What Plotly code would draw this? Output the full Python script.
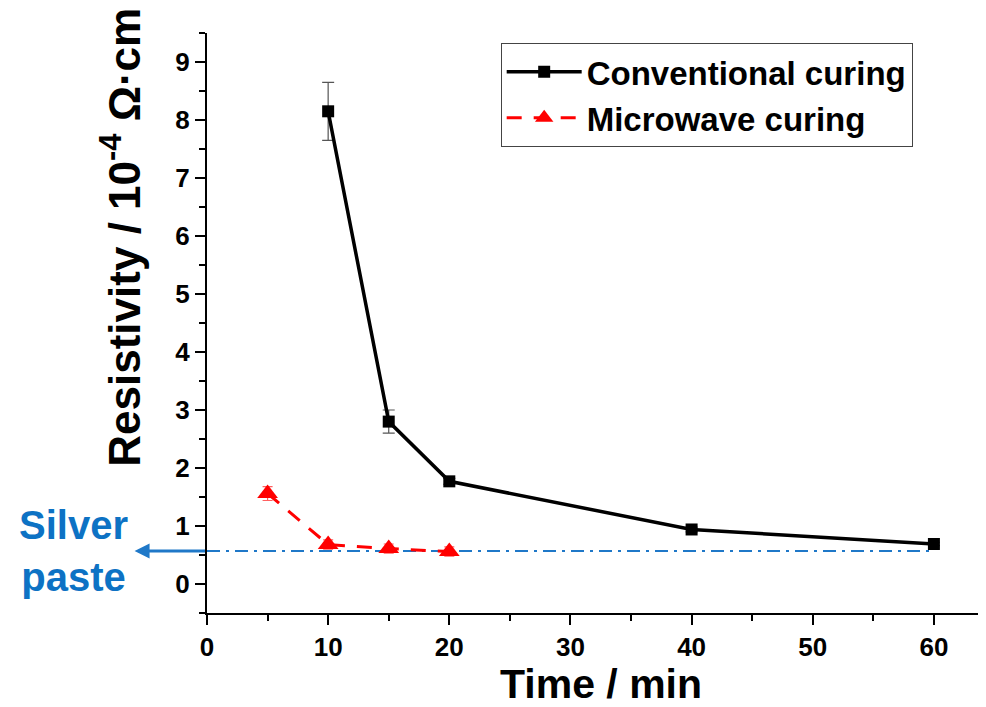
import plotly.graph_objects as go

conv_time = [10, 15, 20, 40, 60]
conv_res = [8.15, 2.80, 1.77, 0.94, 0.69]
conv_err = [0.50, 0.20, 0.05, 0.04, 0.03]

micro_time = [5, 10, 15, 20]
micro_res = [1.56, 0.68, 0.61, 0.56]
micro_err = [0.12, 0.08, 0.08, 0.08]

silver_level = 0.57
silver_x = [0, 60]

FONT = "Arial, Liberation Sans, sans-serif"
BLUE = "#1f78c8"

fig = go.Figure()
fig.add_trace(go.Scatter(
    x=silver_x, y=[silver_level, silver_level], mode="lines",
    line=dict(color=BLUE, width=2, dash="13px,6px,3px,6px"),
    showlegend=False, hoverinfo="skip"))
fig.add_trace(go.Scatter(
    x=conv_time, y=conv_res, mode="lines+markers", name="Conventional curing",
    line=dict(color="black", width=3.5),
    marker=dict(symbol="square", size=12, color="black"),
    error_y=dict(type="data", array=conv_err, color="#555555", thickness=1.2, width=6)))
fig.add_trace(go.Scatter(
    x=micro_time, y=micro_res, mode="lines+markers", name="Microwave curing",
    line=dict(color="red", width=3, dash="15px,12px"),
    marker=dict(symbol="triangle-up", size=18, color="red"),
    error_y=dict(type="data", array=micro_err, color="#ff6060", thickness=1.2, width=5)))

fig.update_layout(
    width=986, height=707,
    margin=dict(l=199, r=8, t=25, b=102),
    plot_bgcolor="white", paper_bgcolor="white",
    font=dict(family=FONT, size=26, color="black"),
    legend=dict(x=0.377, y=0.983, xanchor="left", yanchor="top",
                bordercolor="#444444", borderwidth=1, bgcolor="white",
                font=dict(family=FONT, size=33, color="black", weight="bold"),
                itemwidth=75, tracegroupgap=0),
    xaxis=dict(range=[0, 64.3], tickmode="linear", tick0=0, dtick=10,
               showline=True, linecolor="black", linewidth=2, showgrid=False, zeroline=False,
               ticks="outside", ticklen=10, tickwidth=2, tickcolor="black",
               minor=dict(dtick=5, ticks="outside", ticklen=6, tickwidth=2, tickcolor="black"),
               tickfont=dict(family=FONT, size=26, weight="bold")),
    yaxis=dict(range=[-0.5, 9.5], tickmode="linear", tick0=0, dtick=1,
               showline=True, linecolor="black", linewidth=2, showgrid=False, zeroline=False,
               ticks="outside", ticklen=10, tickwidth=2, tickcolor="black",
               minor=dict(dtick=0.5, ticks="outside", ticklen=6, tickwidth=2, tickcolor="black"),
               tickfont=dict(family=FONT, size=26, weight="bold")),
)

fig.add_annotation(
    text="<b>Resistivity / 10<sup>-4</sup> Ω·cm</b>", textangle=-90,
    xref="paper", yref="paper", x=-0.111, y=0.648, xanchor="center", yanchor="middle",
    showarrow=False, font=dict(family=FONT, size=44, color="black"))

fig.add_annotation(
    text="<b>Time / min</b>", xref="paper", yref="paper", x=0.506, y=-0.1224,
    xanchor="center", yanchor="middle", showarrow=False,
    font=dict(family=FONT, size=41, color="black"))

fig.add_annotation(
    xref="paper", yref="y", x=-0.093, y=silver_level,
    axref="pixel", ayref="pixel", ax=72, ay=0,
    showarrow=True, arrowhead=2, arrowsize=1, arrowwidth=3, arrowcolor=BLUE, text="")

fig.add_annotation(
    text="<b>Silver<br>paste</b>", xref="paper", yref="paper",
    x=-0.172, y=0.107, xanchor="center", yanchor="middle", showarrow=False, align="center",
    font=dict(family=FONT, size=40, color="#0d72c4"))

fig.write_html("out.html")
